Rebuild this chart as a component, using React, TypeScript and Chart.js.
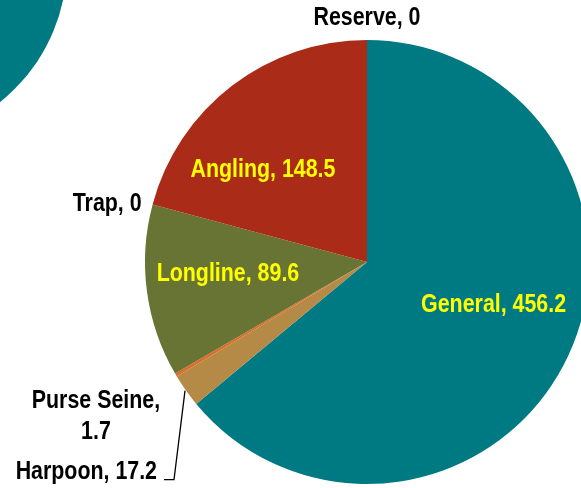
import React, { useEffect, useRef } from "react";
import { Chart, registerables } from "chart.js";

Chart.register(...registerables);

// Data (clockwise from 12 o'clock)
const categories = ["General", "Harpoon", "Purse Seine", "Longline", "Trap", "Angling", "Reserve"];
const values = [456.2, 17.2, 1.7, 89.6, 0, 148.5, 0];
const valueLabels = ["456.2", "17.2", "1.7", "89.6", "0", "148.5", "0"];
const sliceColors = ["#007A82", "#B48A46", "#DC6E28", "#687434", "#8C8C8C", "#A92B18", "#5A5A5A"];

// Label layout (styling only)
type LabelSpec = {
  mode: "inside" | "outside" | "top" | "leader";
  color: string;
  dx: number;
  dy: number;
  align: CanvasTextAlign;
  lines?: string[];
};
const labelLayout: LabelSpec[] = [
  { mode: "inside", color: "#FFFF00", dx: 6, dy: -13, align: "center" },
  { mode: "leader", color: "#000000", dx: -16, dy: 82, align: "right" },
  { mode: "outside", color: "#000000", dx: -80, dy: 26, align: "center", lines: ["Purse Seine,", "1.7"] },
  { mode: "inside", color: "#FFFF00", dx: -7, dy: -5, align: "center" },
  { mode: "outside", color: "#000000", dx: -11, dy: 0, align: "right" },
  { mode: "inside", color: "#FFFF00", dx: -23, dy: 14, align: "center" },
  { mode: "top", color: "#000000", dx: 0, dy: -22, align: "center" },
];

const FONT = 'bold 25px "Liberation Sans", Arial, sans-serif';
const XSCALE = 0.855;

function drawText(ctx: CanvasRenderingContext2D, text: string, x: number, y: number, align: CanvasTextAlign, color: string) {
  ctx.save();
  ctx.translate(x, y);
  ctx.scale(XSCALE, 1);
  ctx.font = FONT;
  ctx.fillStyle = color;
  ctx.textAlign = align;
  ctx.textBaseline = "middle";
  ctx.fillText(text, 0, 0);
  ctx.restore();
}

const decorPlugin = {
  id: "decor",
  beforeDraw(chart: any) {
    const ctx = chart.ctx as CanvasRenderingContext2D;
    ctx.save();
    ctx.fillStyle = "#007A82";
    ctx.beginPath();
    ctx.arc(-111, -37, 178, 0, Math.PI * 2);
    ctx.fill();
    ctx.restore();
  },
};

const labelPlugin = {
  id: "sliceLabels",
  afterDatasetsDraw(chart: any) {
    const ctx = chart.ctx as CanvasRenderingContext2D;
    const meta = chart.getDatasetMeta(0);
    meta.data.forEach((arc: any, i: number) => {
      const spec = labelLayout[i];
      const p = arc.getProps(["x", "y", "startAngle", "endAngle", "outerRadius"], true);
      const mid = (p.startAngle + p.endAngle) / 2;
      const text = `${categories[i]}, ${valueLabels[i]}`;
      if (spec.mode === "inside") {
        const r = p.outerRadius * 0.6;
        const x = p.x + Math.cos(mid) * r + spec.dx;
        const y = p.y + Math.sin(mid) * r + spec.dy;
        drawText(ctx, text, x, y, spec.align, spec.color);
      } else if (spec.mode === "top") {
        const x = p.x + Math.cos(mid) * p.outerRadius + spec.dx;
        const y = p.y + Math.sin(mid) * p.outerRadius + spec.dy;
        drawText(ctx, text, x, y, spec.align, spec.color);
      } else if (spec.mode === "outside") {
        const ex = p.x + Math.cos(mid) * p.outerRadius;
        const ey = p.y + Math.sin(mid) * p.outerRadius;
        const lines = spec.lines || [text];
        lines.forEach((ln, k) => {
          drawText(ctx, ln, ex + spec.dx, ey + spec.dy + k * 31, spec.align, spec.color);
        });
      } else if (spec.mode === "leader") {
        const ex = p.x + Math.cos(mid) * p.outerRadius;
        const ey = p.y + Math.sin(mid) * p.outerRadius;
        const bx = ex - 12;
        const by = ey + 89;
        ctx.save();
        ctx.strokeStyle = "#000000";
        ctx.lineWidth = 1.3;
        ctx.beginPath();
        ctx.moveTo(ex - 1, ey);
        ctx.lineTo(bx, by);
        ctx.lineTo(bx - 10, by);
        ctx.stroke();
        ctx.restore();
        drawText(ctx, text, ex - 29, ey + 82, "right", spec.color);
      }
    });
  },
};

export default function App() {
  const ref = useRef<HTMLCanvasElement>(null);
  useEffect(() => {
    document.body.style.margin = "0";
    const canvas = ref.current!;
    const chart = new Chart(canvas, {
      type: "pie",
      data: {
        labels: categories,
        datasets: [
          {
            data: values,
            backgroundColor: sliceColors,
            borderWidth: 0,
          },
        ],
      },
      options: {
        animation: false,
        responsive: false,
        maintainAspectRatio: false,
        devicePixelRatio: 1,
        layout: { padding: { left: 145, right: 11, top: 40, bottom: 4 } },
        plugins: {
          legend: { display: false },
          tooltip: { enabled: false },
        },
      },
      plugins: [decorPlugin, labelPlugin],
    });
    return () => chart.destroy();
  }, []);
  return (
    <div style={{ position: "fixed", left: 0, top: 0, width: 581, height: 488, overflow: "hidden", background: "#fff" }}>
      <canvas ref={ref} width={600} height={488} style={{ width: 600, height: 488, display: "block" }} />
    </div>
  );
}
